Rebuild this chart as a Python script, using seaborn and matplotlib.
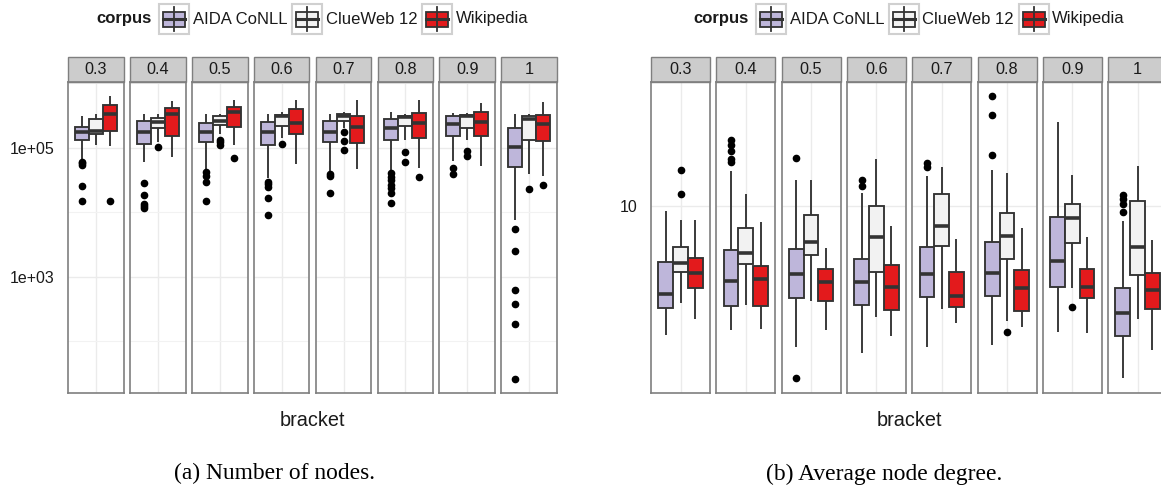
import numpy as np
import pandas as pd
import matplotlib
matplotlib.use("Agg")
import matplotlib.pyplot as plt
from matplotlib.patches import Rectangle
from matplotlib.lines import Line2D
from matplotlib.ticker import FixedLocator, NullLocator, NullFormatter
import seaborn as sns

plt.rcParams["font.family"] = ["Liberation Sans", "DejaVu Sans"]

# ---------------- data ----------------
brackets = ["0.3", "0.4", "0.5", "0.6", "0.7", "0.8", "0.9", "1"]
corpora = ["AIDA CoNLL", "ClueWeb 12", "Wikipedia"]
corpus_colors = ["#BEB6DA", "#F2F2F2", "#E31A1C"]

# box statistics per bracket: [lower whisker, Q1, median, Q3, upper whisker]
nodes_aida = [
    [68000, 132000, 178000, 209000, 316000],
    [61700, 115000, 178000, 263000, 339000],
    [47500, 126000, 174000, 245000, 339000],
    [33900, 110000, 174000, 251000, 339000],
    [43700, 126000, 178000, 263000, 339000],
    [45700, 132000, 204000, 282000, 355000],
    [63100, 151000, 234000, 309000, 347000],
    [7760, 50100, 105000, 204000, 339000],
]
nodes_aida_out = [
    [60300, 57500, 53700, 25700, 14800],
    [28200, 18600, 13500, 12600, 11700],
    [41700, 36300, 30200, 15100],
    [30200, 27500, 24500, 16600, 9100],
    [38900, 36300, 20400],
    [40700, 35500, 31600, 26900, 24000, 20000, 13800],
    [49000, 38900],
    [5500, 2510, 631, 380, 186, 26],
]
nodes_clue = [
    [110000, 162000, 182000, 282000, 339000],
    [126000, 204000, 257000, 295000, 339000],
    [166000, 224000, 263000, 309000, 339000],
    [141000, 219000, 309000, 324000, 355000],
    [204000, 263000, 309000, 331000, 355000],
    [132000, 219000, 302000, 316000, 339000],
    [132000, 204000, 316000, 324000, 347000],
    [39800, 135000, 282000, 316000, 331000],
]
nodes_clue_out = [
    [],
    [105000],
    [132000, 123000, 112000],
    [115000],
    [178000, 129000, 93300],
    [85100, 61700],
    [91200, 75900],
    [22900],
]
nodes_wiki = [
    [107000, 186000, 339000, 457000, 646000],
    [72400, 151000, 339000, 417000, 537000],
    [112000, 214000, 363000, 437000, 562000],
    [56200, 162000, 240000, 398000, 550000],
    [46800, 120000, 214000, 316000, 562000],
    [49000, 141000, 240000, 347000, 550000],
    [52500, 151000, 251000, 355000, 490000],
    [37200, 129000, 234000, 324000, 525000],
]
nodes_wiki_out = [[14800], [], [69200], [], [], [35500], [], [26300]]

degree_aida = [
    [4.76, 5.55, 6.01, 7.23, 9.72],
    [4.90, 5.62, 6.48, 7.76, 12.2],
    [4.45, 5.88, 6.76, 7.82, 11.6],
    [4.30, 5.65, 6.46, 7.37, 10.8],
    [4.43, 5.92, 6.78, 7.91, 11.9],
    [4.48, 5.96, 6.81, 8.15, 12.3],
    [4.85, 6.27, 7.30, 9.39, 16.2],
    [3.71, 4.73, 5.40, 6.22, 9.17],
]
degree_aida_out = [
    [],
    [12.9, 13.1, 13.7, 14.2, 14.6],
    [3.72, 13.2],
    [11.2, 11.6],
    [12.5, 12.8],
    [13.4, 16.9, 18.8],
    [],
    [9.64, 10.1, 10.4, 10.65],
]
degree_clue = [
    [5.72, 6.82, 7.21, 7.90, 9.21],
    [5.65, 7.18, 7.64, 8.80, 10.7],
    [5.80, 7.54, 8.11, 9.48, 11.6],
    [5.28, 6.84, 8.38, 10.0, 13.1],
    [5.52, 7.95, 8.91, 10.7, 12.5],
    [5.16, 7.38, 8.43, 9.59, 12.1],
    [6.22, 8.07, 9.35, 10.1, 11.96],
    [5.21, 6.72, 7.91, 10.3, 12.6],
]
degree_clue_out = [[10.7, 12.3], [], [], [], [], [4.83], [5.60], []]
degree_wiki = [
    [5.21, 6.22, 6.81, 7.40, 9.23],
    [4.92, 5.63, 6.57, 7.07, 9.14],
    [4.90, 5.80, 6.47, 6.96, 7.87],
    [4.73, 5.50, 6.27, 7.12, 8.93],
    [5.09, 5.60, 5.97, 6.82, 8.26],
    [4.97, 5.47, 6.22, 6.90, 8.83],
    [4.81, 5.88, 6.27, 6.96, 8.36],
    [4.37, 5.52, 6.17, 6.81, 8.21],
]
degree_wiki_out = [[], [], [], [], [], [], [], []]


def sample_from_stats(stats, outliers, rep=30):
    """Rebuild a sample whose quartiles / whiskers equal the read statistics."""
    lo, q1, med, q3, hi = stats
    low = [v for v in outliers if v < lo]
    high = [v for v in outliers if v > hi]
    return low + [lo] + [q1] * rep + [med] * rep + [q3] * rep + [hi] + high


def build_frame(stat_lists, out_lists):
    rows = []
    for c, stats_c, outs_c in zip(corpora, stat_lists, out_lists):
        for b, st, ou in zip(brackets, stats_c, outs_c):
            for v in sample_from_stats(st, ou):
                rows.append((b, c, v))
    return pd.DataFrame(rows, columns=["bracket", "corpus", "value"])


nodes_df = build_frame([nodes_aida, nodes_clue, nodes_wiki],
                       [nodes_aida_out, nodes_clue_out, nodes_wiki_out])
degree_df = build_frame([degree_aida, degree_clue, degree_wiki],
                        [degree_aida_out, degree_clue_out, degree_wiki_out])

palette = dict(zip(corpora, corpus_colors))

# ---------------- layout ----------------
W, H = 1161, 486
fig = plt.figure(figsize=(W / 100, H / 100), dpi=100)

PANEL_TOP, PANEL_BOT = 82, 393
STRIP_H = 25
LINE = "#333333"
BORDER = "#7F7F7F"
GRID = "#EBEBEB"


def fx(x):
    return x / W


def fy(y):
    return 1 - y / H


def draw_group(df, x_start, step, width, ylim, major, major_labels, minor):
    ph = PANEL_BOT - PANEL_TOP
    for i, b in enumerate(brackets):
        x0 = x_start + i * step
        ax = fig.add_axes([fx(x0), fy(PANEL_BOT), width / W, ph / H])
        sub = df[df["bracket"] == b]
        sns.boxplot(data=sub, x="bracket", y="value", hue="corpus",
                    order=[b], hue_order=corpora, palette=palette,
                    saturation=1, width=0.9, gap=0, dodge=True, whis=1.5,
                    linecolor=LINE, linewidth=1.35, fliersize=4.5,
                    showcaps=False, log_scale=True, legend=False,
                    medianprops=dict(linewidth=2.6, color=LINE),
                    flierprops=dict(marker="o", markerfacecolor="black",
                                    markeredgecolor="black"),
                    ax=ax)
        ax.set_xlim(-0.6, 0.6)
        ax.set_ylim(*ylim)
        ax.set_xlabel("")
        ax.set_ylabel("")
        ax.set_xticks([0])
        ax.tick_params(axis="x", length=0, labelbottom=False)
        ax.yaxis.set_major_locator(FixedLocator(major))
        if minor:
            ax.yaxis.set_minor_locator(FixedLocator(minor))
        else:
            ax.yaxis.set_minor_locator(NullLocator())
        ax.yaxis.set_minor_formatter(NullFormatter())
        if i == 0:
            ax.set_yticklabels(major_labels)
            ax.tick_params(axis="y", which="major", length=0, pad=9.4,
                           labelsize=11.5, labelcolor="#1A1A1A")
        else:
            ax.tick_params(axis="y", which="major", length=0, labelleft=False)
        ax.tick_params(axis="y", which="minor", length=0)
        ax.set_axisbelow(True)
        ax.grid(True, axis="x", color=GRID, linewidth=1.0)
        ax.grid(True, axis="y", which="major", color=GRID, linewidth=1.0)
        ax.grid(True, axis="y", which="minor", color="#F2F2F2", linewidth=0.8)
        for sp in ax.spines.values():
            sp.set_color(BORDER)
            sp.set_linewidth(1.2)
        # facet strip
        ax.add_patch(Rectangle((0, 1), 1, STRIP_H / ph, transform=ax.transAxes,
                               clip_on=False, facecolor="#CCCCCC",
                               edgecolor=BORDER, linewidth=1.0))
        ax.text(0.5, 1 + STRIP_H / 2 / ph, b, transform=ax.transAxes,
                ha="center", va="center", fontsize=11.7, color="#1A1A1A")


def draw_legend(x_title, key_lefts):
    yc = 19
    fig.text(fx(x_title), fy(yc), "corpus", fontweight="bold", fontsize=12,
             ha="left", va="center", color="#1A1A1A")
    for kx, name, col in zip(key_lefts, corpora, corpus_colors):
        fig.add_artist(Rectangle((fx(kx), fy(34)), 30 / W, 30 / H,
                                 transform=fig.transFigure, facecolor="white",
                                 edgecolor="#D0D0D0", linewidth=1.5))
        cx = kx + 15
        fig.add_artist(Line2D([fx(cx), fx(cx)], [fy(7), fy(31)],
                              transform=fig.transFigure, color=LINE, lw=1.3))
        fig.add_artist(Rectangle((fx(kx + 4), fy(26.7)), 22 / W, 15 / H,
                                 transform=fig.transFigure, facecolor=col,
                                 edgecolor=LINE, linewidth=1.3))
        fig.add_artist(Line2D([fx(kx + 4), fx(kx + 26)], [fy(19), fy(19)],
                              transform=fig.transFigure, color=LINE, lw=2.2))
        fig.text(fx(kx + 33.5), fy(yc), name, fontsize=12, ha="left",
                 va="center", color="#1A1A1A")


# (a) number of nodes
draw_group(nodes_df, 68, 61.9, 55.8, (15.9, 1.054e6),
           [1e3, 1e5], ["1e+03", "1e+05"], [1e2, 1e4, 1e6])
draw_legend(96, [159.3, 292, 422])
fig.text(fx(312), fy(420), "bracket", fontsize=14.3, ha="center", va="center",
         color="#1A1A1A")

# (b) average node degree
draw_group(degree_df, 651, 65.3, 59, (3.408, 20.42), [10], ["10"], None)
draw_legend(693, [756, 888.6, 1018.6])
fig.text(fx(909), fy(420), "bracket", fontsize=14.3, ha="center", va="center",
         color="#1A1A1A")

# captions
fig.text(fx(274.4), fy(479.5), "(a) Number of nodes.", fontsize=16.9,
         family="Liberation Serif", ha="center", va="baseline")
fig.text(fx(884.2), fy(479.5), "(b) Average node degree.", fontsize=16.9,
         family="Liberation Serif", ha="center", va="baseline")

fig.savefig("out.png", dpi=100)
